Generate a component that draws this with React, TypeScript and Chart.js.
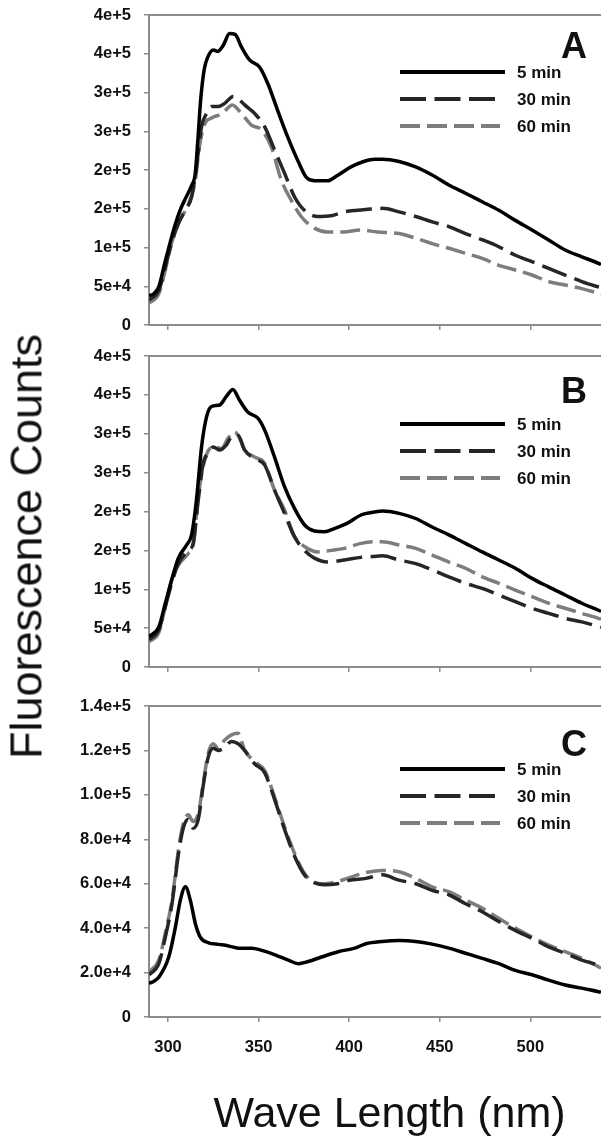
import React, { useEffect, useRef } from "react";
import { Chart, registerables } from "chart.js";

Chart.register(...registerables);

// ---------------- data ----------------
const X_MIN = 289.5;
const X_MAX = 539;
const X_TICKS = [300, 350, 400, 450, 500];

const AB_Y_TICKS = [0, 50000, 100000, 150000, 200000, 250000, 300000, 350000, 400000];
const AB_Y_LABELS = ["0", "5e+4", "1e+5", "2e+5", "2e+5", "3e+5", "3e+5", "4e+5", "4e+5"];
const C_Y_TICKS = [0, 20000, 40000, 60000, 80000, 100000, 120000, 140000];
const C_Y_LABELS = ["0", "2.0e+4", "4.0e+4", "6.0e+4", "8.0e+4", "1.0e+5", "1.2e+5", "1.4e+5"];

const SERIES_NAMES = ["5 min", "30 min", "60 min"];
const PANEL_LETTERS = ["A", "B", "C"];
const X_TITLE = "Wave Length (nm)";
const Y_TITLE = "Fluorescence Counts";

// Panel A
const A_5MIN: [number, number][] = [
  [289.5, 38000], [292, 40000], [295, 50000], [298, 78000], [301, 105000], [304, 130000],
  [307, 150000], [310, 165000], [313, 180000], [315, 195000], [316.5, 240000], [318, 290000],
  [320, 330000], [322, 346000], [325, 355000], [327.5, 353000], [330.5, 361000], [334, 376000],
  [337, 375000], [340.5, 359000], [345, 342000], [350.5, 333000], [355, 312000], [360.5, 277000],
  [366, 243000], [371.5, 213000], [377, 189000], [382.5, 186000], [388, 186000], [393.5, 193000],
  [401, 204000], [408, 211000], [414, 214000], [418.3, 214000], [427.5, 211000], [436.7, 204000],
  [445.8, 193500], [455, 180600], [464.2, 170000], [473.4, 159000], [482.6, 148000], [491.7, 135000],
  [500.9, 122500], [510.1, 109700], [519.2, 96800], [528.4, 88000], [537.6, 79600], [539, 78000],
];
const A_30MIN: [number, number][] = [
  [289.5, 32000], [295, 45000], [298.5, 75000], [302, 106000], [305.7, 131000], [309.5, 148000],
  [313, 165000], [315.7, 204000], [318.5, 256000], [321.3, 273000], [324, 282000], [327.7, 282000],
  [331.3, 286000], [336, 295000], [338.7, 292000], [342.3, 284000], [347.8, 273000], [353.3, 256000],
  [358.8, 226000], [364.3, 196000], [369.8, 165500], [375.3, 148000], [382.6, 140000], [390, 141000],
  [397.5, 146000], [404.5, 148000], [409.2, 149000], [418.3, 150500], [427.5, 146000], [436.7, 140000],
  [445.8, 133000], [455, 127000], [464.2, 118000], [473.4, 110000], [482.6, 101000], [491.7, 90000],
  [500.9, 81700], [510.1, 73000], [519.2, 64500], [528.4, 56000], [537.6, 49000], [539, 48000],
];
const A_60MIN: [number, number][] = [
  [289.5, 28000], [295, 41000], [298.5, 71000], [302, 106000], [305.7, 131000], [311, 155000],
  [314.8, 183000], [317.6, 234000], [320.4, 260000], [324, 267000], [330, 273000], [335.5, 284000],
  [340.5, 273000], [346, 258000], [351.5, 252000], [357, 230000], [362.5, 187000], [368, 161000],
  [373.5, 140000], [380.8, 125000], [388, 120000], [397, 120000], [406, 122500], [415.6, 120000],
  [427.5, 118000], [436.7, 112000], [445.8, 105000], [455, 99000], [464.2, 92500], [473.4, 86000],
  [482.6, 77000], [491.7, 71000], [500.9, 64500], [510.1, 56000], [519.2, 51600], [528.4, 47000],
  [537.6, 41000], [539, 40000],
];

// Panel B
const B_5MIN: [number, number][] = [
  [289.5, 39000], [295, 52000], [298.5, 82000], [302, 112000], [305.7, 140000], [310.3, 157000],
  [313, 170000], [315.7, 215000], [318.5, 283000], [321.3, 322000], [324, 335000], [328.5, 337000],
  [332.2, 348000], [335.8, 357000], [339.5, 343000], [344, 328000], [349.6, 320000], [353.3, 305000],
  [358.8, 270000], [364.3, 232000], [369.8, 204000], [375.3, 183000], [380.8, 175000], [386.3, 174000],
  [391.8, 178000], [399, 185000], [406.5, 195500], [415.6, 200000], [418.3, 200600], [427.5, 197600],
  [436.7, 191000], [445.8, 180000], [455, 170000], [464.2, 159000], [473.4, 148000], [482.6, 137600],
  [491.7, 127000], [500.9, 114000], [510.1, 103000], [519.2, 92600], [528.4, 82000], [537.6, 73000],
  [539, 71500],
];
const B_30MIN: [number, number][] = [
  [289.5, 35000], [295, 48000], [298.5, 77500], [302, 107600], [305.7, 133000], [311.2, 150000],
  [313.9, 159000], [316.7, 215000], [319.4, 262000], [322.2, 275000], [324.9, 283000], [328.6, 279000],
  [332.2, 285500], [335.8, 298000], [338.6, 298000], [342.3, 279000], [347.8, 268000], [353.3, 260000],
  [358.8, 227600], [364.3, 197600], [369.8, 167600], [375.3, 150000], [380.8, 140000], [388.1, 135000],
  [397.3, 137600], [406.5, 141000], [413, 142000], [418.3, 143000], [427.5, 137600], [436.7, 133000],
  [445.8, 125000], [455, 116000], [464.2, 107600], [473.4, 101000], [482.6, 92600], [491.7, 84000],
  [500.9, 75500], [510.1, 69000], [519.2, 62600], [528.4, 58000], [537.6, 52000], [539, 51000],
];
const B_60MIN: [number, number][] = [
  [289.5, 32500], [295, 45000], [298.5, 77500], [302, 112000], [305.7, 131000], [311.2, 146000],
  [313.9, 157000], [316.7, 219000], [319.4, 257600], [323.1, 281000], [325.8, 283000], [329.5, 281000],
  [333.1, 294000], [336.8, 302600], [339.5, 294000], [342.3, 279000], [347.8, 270000], [353.3, 262000],
  [358.8, 227600], [364.3, 202000], [369.8, 167600], [375.3, 155000], [382.6, 148000], [390, 150000],
  [397.3, 152600], [406.5, 159000], [413, 161000], [418.3, 161000], [427.5, 157000], [436.7, 152600],
  [445.8, 144000], [455, 135000], [464.2, 127000], [473.4, 116000], [482.6, 107600], [491.7, 99000],
  [500.9, 90400], [510.1, 82000], [519.2, 75500], [528.4, 69000], [537.6, 62600], [539, 61500],
];

// Panel C
const C_5MIN: [number, number][] = [
  [289.5, 15200], [292, 16000], [295, 18000], [300.4, 27000], [304.1, 40600], [306.8, 52600],
  [309.6, 58600], [312.3, 52600], [315.1, 42000], [317.8, 36000], [322.4, 33400], [327.9, 32700],
  [333.4, 32000], [338.9, 31000], [346.2, 31000], [351.7, 30000], [359.1, 28000], [366.4, 25600],
  [371.9, 24000], [377.4, 25000], [384.7, 27000], [393.9, 29400], [403.1, 31000], [409.2, 33000],
  [418.3, 34000], [427.5, 34400], [436.7, 34000], [445.8, 32800], [455, 31000], [464.2, 28700],
  [473.4, 26400], [482.6, 24000], [491.7, 21000], [500.9, 19000], [510.1, 16600], [519.2, 14400],
  [528.4, 13000], [537.6, 11400], [539, 11200],
];
const C_30MIN: [number, number][] = [
  [289.5, 19000], [294.9, 24000], [298.5, 36000], [302.2, 51000], [305.7, 73000], [308.4, 85000],
  [311.2, 89000], [313.9, 85000], [316.7, 89000], [319.4, 104000], [322.2, 117000], [324.9, 121000],
  [327.7, 120000], [331.3, 121500], [335, 124000], [338.7, 123000], [342.3, 120000], [347.8, 114000],
  [353.3, 110000], [358.8, 98000], [364.3, 84500], [369.8, 72500], [375.3, 64000], [380.8, 60500],
  [386.3, 59500], [393.6, 60000], [400, 61500], [409.2, 62400], [418.3, 64000], [427.5, 61600],
  [436.7, 60000], [445.8, 57000], [455, 55000], [464.2, 51000], [473.4, 47400], [482.6, 43000],
  [491.7, 39000], [500.9, 35400], [510.1, 31600], [519.2, 28700], [528.4, 25600], [537.6, 23400],
  [539, 23000],
];
const C_60MIN: [number, number][] = [
  [289.5, 20400], [294.9, 25600], [298.5, 37700], [302.2, 52600], [305.7, 75000], [308.4, 87000],
  [311.2, 91000], [313.9, 88000], [316.7, 91600], [319.4, 105000], [322.2, 118700], [324.9, 123000],
  [327.7, 121000], [331.3, 124700], [335, 127000], [338.7, 127700], [342.3, 120000], [347.8, 115000],
  [353.3, 111000], [358.8, 99000], [364.3, 85600], [369.8, 73700], [375.3, 64700], [380.8, 60500],
  [386.3, 60000], [393.6, 61000], [401, 63000], [409.2, 65000], [418.3, 66000], [427.5, 65400],
  [436.7, 62400], [445.8, 58600], [455, 56400], [464.2, 52600], [473.4, 49000], [482.6, 44400],
  [491.7, 40000], [500.9, 36000], [510.1, 32400], [519.2, 29400], [528.4, 26400], [537.6, 22600],
  [539, 22000],
];

// ---------------- styles ----------------
const FONT = "'Liberation Sans', Arial, Helvetica, sans-serif";
const AXIS_COLOR = "#8c8c8c";
const TEXT_COLOR = "#111111";
const SERIES_COLORS = ["#000000", "#262626", "#7d7d7d"];
const SERIES_DASH: number[][] = [[], [26, 8.5], [20, 7]];
const LEGEND_END = [505, 495, 500];

type PanelSpec = {
  series: [number, number][][];
  yTicks: number[];
  yLabels: string[];
  letter: string;
  top: number;
  height: number;
  padTop: number;
  xHeight: number;
  showX: boolean;
  letterDy: number;
  legendDy: number;
};

const PANELS: PanelSpec[] = [
  { series: [A_5MIN, A_30MIN, A_60MIN], yTicks: AB_Y_TICKS, yLabels: AB_Y_LABELS, letter: PANEL_LETTERS[0],
    top: 0, height: 345, padTop: 15, xHeight: 20, showX: false, letterDy: 43, legendDy: 57 },
  { series: [B_5MIN, B_30MIN, B_60MIN], yTicks: AB_Y_TICKS, yLabels: AB_Y_LABELS, letter: PANEL_LETTERS[1],
    top: 345, height: 342, padTop: 11, xHeight: 20, showX: false, letterDy: 47, legendDy: 68 },
  { series: [C_5MIN, C_30MIN, C_60MIN], yTicks: C_Y_TICKS, yLabels: C_Y_LABELS, letter: PANEL_LETTERS[2],
    top: 687, height: 451, padTop: 19, xHeight: 121, showX: true, letterDy: 50, legendDy: 63 },
];

const decorPlugin = {
  id: "panelDecor",
  afterDraw(chart: any, _args: any, opts: any) {
    const { ctx, chartArea } = chart;
    ctx.save();
    ctx.strokeStyle = AXIS_COLOR;
    ctx.lineWidth = 2;
    ctx.beginPath();
    ctx.moveTo(chartArea.left, chartArea.top);
    ctx.lineTo(chartArea.right + 5, chartArea.top);
    ctx.stroke();

    ctx.fillStyle = TEXT_COLOR;
    ctx.font = `bold 36px ${FONT}`;
    ctx.textAlign = "right";
    ctx.textBaseline = "alphabetic";
    ctx.fillText(opts.letter, 587, chartArea.top + opts.letterDy);

    chart.data.datasets.forEach((ds: any, i: number) => {
      const y = chartArea.top + opts.legendDy + i * 27;
      ctx.strokeStyle = ds.borderColor;
      ctx.lineWidth = 4;
      ctx.setLineDash(ds.borderDash || []);
      ctx.beginPath();
      ctx.moveTo(400, y);
      ctx.lineTo(LEGEND_END[i], y);
      ctx.stroke();
      ctx.setLineDash([]);
      ctx.fillStyle = TEXT_COLOR;
      ctx.font = `bold 17px ${FONT}`;
      ctx.textAlign = "left";
      ctx.textBaseline = "middle";
      ctx.fillText(ds.label, 517, y + 1);
    });
    ctx.restore();
  },
};

function zeroPad(s: any) {
  s.paddingTop = 0;
  s.paddingBottom = 0;
  s.paddingLeft = 0;
  s.paddingRight = 0;
}

function buildConfig(p: PanelSpec): any {
  return {
    type: "line",
    data: {
      datasets: p.series.map((s, i) => ({
        label: SERIES_NAMES[i],
        data: s.map(([x, y]) => ({ x, y })),
        borderColor: SERIES_COLORS[i],
        borderDash: SERIES_DASH[i],
        borderWidth: 3.5,
        pointRadius: 0,
        fill: false,
        cubicInterpolationMode: "monotone",
      })),
    },
    options: {
      responsive: false,
      animation: false,
      devicePixelRatio: 1,
      layout: { padding: { top: p.padTop, left: 0, right: 0, bottom: 0 } },
      plugins: {
        legend: { display: false },
        tooltip: { enabled: false },
        panelDecor: { letter: p.letter, letterDy: p.letterDy, legendDy: p.legendDy },
      },
      scales: {
        x: {
          type: "linear",
          min: X_MIN,
          max: X_MAX,
          afterBuildTicks: (s: any) => { s.ticks = X_TICKS.map((v) => ({ value: v })); },
          afterFit: (s: any) => { s.height = p.xHeight; zeroPad(s); },
          border: { display: true, color: AXIS_COLOR, width: 2 },
          grid: { display: true, drawOnChartArea: false, drawTicks: true, tickLength: 5, color: AXIS_COLOR, lineWidth: 1.5 },
          ticks: {
            display: p.showX,
            padding: 16,
            color: TEXT_COLOR,
            font: { family: FONT, size: 16.5, weight: "bold" },
            maxRotation: 0,
            callback: (v: any) => String(v),
          },
        },
        y: {
          type: "linear",
          min: 0,
          max: p.yTicks[p.yTicks.length - 1],
          afterBuildTicks: (s: any) => { s.ticks = p.yTicks.map((v) => ({ value: v })); },
          afterFit: (s: any) => { s.width = 149; zeroPad(s); },
          border: { display: true, color: AXIS_COLOR, width: 2 },
          grid: { display: true, drawOnChartArea: false, drawTicks: true, tickLength: 5, color: AXIS_COLOR, lineWidth: 1.5 },
          ticks: {
            padding: 13,
            color: TEXT_COLOR,
            font: { family: FONT, size: 16.5, weight: "bold" },
            callback: (_v: any, i: number) => p.yLabels[i],
          },
        },
      },
    },
    plugins: [decorPlugin],
  };
}

export default function App() {
  const refs = [useRef<HTMLCanvasElement>(null), useRef<HTMLCanvasElement>(null), useRef<HTMLCanvasElement>(null)];

  useEffect(() => {
    const charts = PANELS.map((p, i) => new Chart(refs[i].current as HTMLCanvasElement, buildConfig(p)));
    return () => charts.forEach((c) => c.destroy());
  }, []);

  return (
    <div style={{ position: "absolute", left: 0, top: 0, width: 601, height: 1138, overflow: "hidden", background: "#fff" }}>
      {PANELS.map((p, i) => (
        <canvas
          key={i}
          ref={refs[i]}
          width={601}
          height={p.height}
          style={{ position: "absolute", left: 0, top: p.top, width: 601, height: p.height }}
        />
      ))}
      <div
        style={{
          position: "absolute", left: 26.4 - 250, top: 546 - 22.5, width: 500, height: 45,
          lineHeight: "45px", fontSize: 45, fontFamily: FONT, color: TEXT_COLOR, textAlign: "center",
          whiteSpace: "nowrap", transform: "rotate(-90deg)", transformOrigin: "50% 50%",
        }}
      >
        {Y_TITLE}
      </div>
      <div
        style={{
          position: "absolute", left: 189, top: 1090.6, width: 401, height: 43,
          lineHeight: "43px", fontSize: 43, fontFamily: FONT, color: TEXT_COLOR, textAlign: "center",
          whiteSpace: "nowrap",
        }}
      >
        {X_TITLE}
      </div>
    </div>
  );
}
